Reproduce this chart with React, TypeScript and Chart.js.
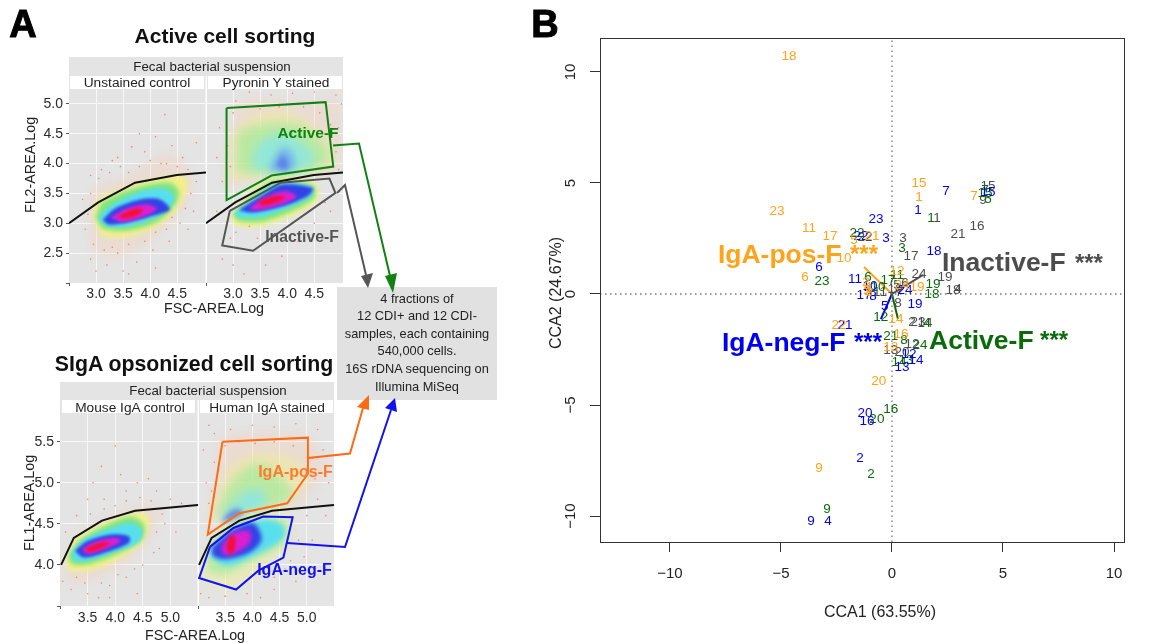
import React, { useEffect, useRef } from "react";
import { Chart, registerables } from "chart.js";
Chart.register(...registerables);

type P = [number, number];
const FONT = "'Liberation Sans', Arial, sans-serif";

// ---------- Panel B data (CCA1, CCA2) for samples 1..24 ----------
const sampleLabels = ["1","2","3","4","5","6","7","8","9","10","11","12","13","14","15","16","17","18","19","20","21","22","23","24"];
const inactiveF: P[] = [[2.03,3.42],[0.90,-1.26],[0.50,2.52],[2.97,0.23],[0.23,0.41],[0.59,0.50],[0.32,0.09],[0.27,-0.41],[4.10,4.23],[0.14,0.23],[-0.54,0.09],[0.90,-2.25],[-0.05,-2.52],[1.49,-1.31],[4.32,4.86],[3.83,3.06],[0.86,1.71],[2.75,0.18],[2.39,0.77],[0.45,-2.61],[2.97,2.70],[-1.22,2.57],[1.17,-1.26],[1.22,0.90]];
const activeF: P[] = [[1.76,3.42],[-0.95,-8.11],[0.45,2.07],[1.58,-1.31],[4.32,4.28],[-1.08,0.77],[4.19,4.68],[0.54,-2.07],[-2.93,-9.68],[-0.63,0.32],[0.23,0.86],[-0.50,-1.04],[0.63,-2.97],[0.32,-3.06],[4.19,4.55],[-0.05,-5.18],[-0.18,0.63],[1.80,0],[1.85,0.45],[-0.68,-5.63],[-0.05,-1.89],[-1.58,2.75],[-3.15,0.59],[1.26,-2.30]];
const igaNegF: P[] = [[1.17,3.78],[-1.44,-7.39],[-0.27,2.52],[-2.88,-10.23],[-0.32,-0.54],[-3.29,1.22],[2.43,4.64],[-0.86,-0.09],[-3.65,-10.23],[-0.99,0.36],[-1.67,0.68],[0.77,-2.70],[0.45,-3.29],[1.08,-2.97],[4.32,4.59],[-1.13,-5.72],[-1.26,-0.05],[1.89,1.94],[1.04,-0.45],[-1.22,-5.36],[-2.12,-1.40],[-1.40,2.61],[-0.72,3.38],[0.59,0.18]];
const igaPosF: P[] = [[1.22,4.37],[-1.17,0.54],[-1.13,0.14],[-1.08,0.32],[-1.71,2.43],[-3.92,0.77],[3.69,4.41],[-1.04,0.09],[-3.29,-7.84],[-2.16,1.62],[-3.74,2.97],[0.23,1.04],[-0.05,-2.39],[0.18,-1.13],[1.22,5.0],[0.41,-1.80],[-2.79,2.61],[-4.64,10.72],[1.13,0.32],[-0.59,-3.92],[-0.90,2.61],[-2.39,-1.40],[-5.18,3.74],[0.45,0.41]];
const arrowTips = { inactive: [1.40,0.86] as P, active: [0.27,-1.13] as P, neg: [-0.50,-1.13] as P, pos: [-1.26,1.22] as P };
const cBlue = "#0000f0", cGreen = "#0b6b0b", cOrange = "#ffa31a", cGray = "#4d4d4d";
const bigLabels: { t: string; at: P; c: string; size: number }[] = [
  { t: "IgA-pos-F", at: [-7.84, 1.40], c: cOrange, size: 26.5 },
  { t: "***", at: [-1.89, 1.44], c: cOrange, size: 24 },
  { t: "Inactive-F", at: [2.25, 1.04], c: cGray, size: 26.5 },
  { t: "***", at: [8.24, 1.04], c: cGray, size: 24 },
  { t: "IgA-neg-F", at: [-7.66, -2.57], c: cBlue, size: 26.5 },
  { t: "***", at: [-1.71, -2.52], c: cBlue, size: 24 },
  { t: "Active-F", at: [1.67, -2.48], c: cGreen, size: 26.5 },
  { t: "***", at: [6.67, -2.43], c: cGreen, size: 24 },
];
const ccaTicks = [-10, -5, 0, 5, 10];

// ---------- Panel A gates and thresholds ----------
const thresholdTop: P[] = [[2.5,3.0],[3.04,3.35],[3.72,3.68],[4.49,3.81],[5.03,3.85]];
const thresholdBottom: P[] = [[3.02,4.0],[3.25,4.33],[3.76,4.54],[4.36,4.66],[5.5,4.73]];
const gateActive: P[] = [[2.88,4.93],[4.71,5.03],[4.85,3.95],[3.71,3.80],[2.88,3.39],[2.88,4.93]];
const gateInactive: P[] = [[2.94,3.21],[3.88,3.68],[4.78,3.75],[4.89,3.51],[3.37,2.54],[2.80,2.63],[2.94,3.21]];
const gatePos: P[] = [[3.45,5.50],[5.02,5.55],[5.02,5.11],[4.64,4.75],[3.76,4.63],[3.18,4.37],[3.45,5.50]];
const gateNeg: P[] = [[3.22,4.22],[3.65,4.45],[4.2,4.59],[4.74,4.58],[4.57,4.09],[4.11,3.93],[3.70,3.70],[3.02,3.84],[3.22,4.22]];

// ---------- Density outlines, outer to inner ----------
const C = { halo:"rgba(255,190,150,0.22)", yel:"rgba(243,242,124,0.9)", grn:"#7fe483", cyn:"#58dfee", blu:"#3243e6", mag:"#dd1fd0", red:"#f20f35", pyel:"rgba(240,240,130,0.42)", pgrn:"rgba(150,235,150,0.6)", pcyn:"rgba(130,230,240,0.7)", pblu:"rgba(110,170,240,0.8)", dblu:"rgba(85,120,230,0.8)" };
const t1 = {
  halo: [[2.86,3.16],[2.98,3.61],[3.56,3.78],[4.30,4.17],[4.70,3.89],[4.73,3.44],[4.18,2.83],[3.44,2.43],[2.95,2.55]] as P[],
  yel: [[2.94,3.16],[3.07,3.41],[3.69,3.64],[4.30,3.78],[4.67,3.75],[4.60,3.39],[4.24,3.02],[3.69,2.80],[3.13,2.80]] as P[],
  grn: [[2.99,3.11],[3.13,3.36],[3.75,3.60],[4.36,3.68],[4.53,3.53],[4.45,3.30],[4.12,3.02],[3.63,2.88],[3.13,2.91]] as P[],
  cyn: [[3.04,3.08],[3.23,3.27],[3.81,3.53],[4.30,3.57],[4.45,3.39],[4.12,3.11],[3.60,2.95],[3.20,2.95]] as P[],
  blu: [[3.12,3.06],[3.35,3.25],[3.81,3.40],[4.18,3.40],[4.36,3.23],[3.99,3.11],[3.56,3.01],[3.23,2.98]] as P[],
  mag: [[3.26,3.10],[3.56,3.25],[3.93,3.32],[4.12,3.25],[3.93,3.13],[3.50,3.02]] as P[],
  red: [[3.41,3.12],[3.69,3.24],[3.87,3.23],[3.75,3.13],[3.50,3.08]] as P[],
};
const t2u = {
  halo: [[2.87,3.61],[2.93,4.51],[3.23,5.07],[4.21,5.01],[4.95,5.07],[4.95,3.95],[3.72,3.81]] as P[],
  yel: [[2.96,3.70],[3.02,4.51],[3.42,4.82],[4.09,4.84],[4.74,4.40],[4.83,3.95],[3.72,3.80]] as P[],
  grn: [[3.06,3.86],[3.11,4.51],[3.54,4.66],[4.21,4.66],[4.67,4.34],[4.74,4.00],[3.79,3.81]] as P[],
  cyn: [[3.36,3.92],[3.42,4.28],[3.85,4.51],[4.21,4.40],[4.52,4.06],[4.03,3.85]] as P[],
  pbl: [[3.66,3.88],[3.79,4.14],[3.97,4.28],[4.15,4.06],[4.09,3.89]] as P[],
  dbl: [[3.79,3.95],[3.91,4.14],[4.02,4.00],[3.97,3.89]] as P[],
};
const t2l = {
  yel: [[2.96,3.13],[3.36,3.55],[3.79,3.76],[4.52,3.66],[4.51,3.34],[3.60,2.97],[3.05,2.97]] as P[],
  grn: [[2.99,3.16],[3.42,3.53],[3.79,3.72],[4.49,3.63],[4.47,3.39],[3.60,3.04],[3.08,3.04]] as P[],
  cyn: [[3.02,3.17],[3.48,3.50],[3.79,3.68],[4.45,3.61],[4.43,3.44],[3.54,3.11],[3.11,3.11]] as P[],
  blu: [[3.11,3.22],[3.54,3.47],[3.91,3.65],[4.47,3.59],[4.40,3.47],[3.97,3.30],[3.36,3.18]] as P[],
  mag: [[3.29,3.25],[3.60,3.44],[3.97,3.54],[4.17,3.44],[3.85,3.30],[3.42,3.22]] as P[],
  red: [[3.45,3.36],[3.72,3.45],[3.97,3.44],[3.82,3.36],[3.54,3.30]] as P[],
};
const b1 = {
  halo: [[3.06,3.95],[3.24,4.31],[3.73,4.55],[4.40,4.71],[4.80,4.71],[4.65,4.35],[4.22,4.03],[3.61,3.83],[3.18,3.79]] as P[],
  yel: [[3.11,4.05],[3.27,4.31],[3.73,4.49],[4.34,4.63],[4.60,4.59],[4.52,4.31],[4.16,4.11],[3.61,3.95],[3.18,3.93]] as P[],
  grn: [[3.15,4.11],[3.34,4.29],[3.79,4.47],[4.28,4.59],[4.52,4.49],[4.49,4.31],[4.10,4.15],[3.55,4.01],[3.21,4.01]] as P[],
  cyn: [[3.21,4.15],[3.43,4.31],[3.85,4.43],[4.28,4.51],[4.49,4.41],[4.40,4.27],[4.04,4.17],[3.49,4.05],[3.27,4.05]] as P[],
  blu: [[3.27,4.17],[3.49,4.29],[3.91,4.37],[4.25,4.35],[4.25,4.27],[3.91,4.17],[3.43,4.09]] as P[],
  mag: [[3.40,4.20],[3.67,4.29],[4.01,4.33],[4.10,4.29],[3.85,4.20],[3.49,4.13]] as P[],
  red: [[3.46,4.20],[3.73,4.27],[3.91,4.27],[3.73,4.20],[3.52,4.16]] as P[],
};
const b2u = {
  halo: [[3.19,4.47],[3.34,5.12],[3.46,5.56],[5.00,5.56],[5.30,5.16],[4.87,4.75],[3.77,4.65]] as P[],
  yel: [[3.22,4.51],[3.34,4.80],[3.59,5.20],[4.14,5.36],[4.81,5.28],[5.00,5.04],[4.63,4.78],[3.77,4.63]] as P[],
  grn: [[3.34,4.57],[3.46,4.84],[3.77,5.12],[4.14,5.24],[4.57,5.04],[4.75,4.84],[4.44,4.73],[3.77,4.63]] as P[],
  cyn: [[3.40,4.53],[3.52,4.67],[3.83,4.88],[4.14,4.92],[4.26,4.76],[3.95,4.63]] as P[],
  dbl: [[3.43,4.51],[3.52,4.61],[3.71,4.69],[3.83,4.63],[3.65,4.55]] as P[],
};
const b2l = {
  yel: [[3.06,3.91],[3.16,4.19],[3.59,4.49],[4.20,4.61],[4.69,4.57],[4.63,4.27],[4.20,3.95],[3.65,3.71],[3.16,3.79]] as P[],
  grn: [[3.16,3.99],[3.22,4.23],[3.65,4.49],[4.26,4.57],[4.63,4.53],[4.60,4.27],[4.02,4.05],[3.52,3.89],[3.22,3.91]] as P[],
  cyn: [[3.22,4.11],[3.28,4.23],[3.71,4.45],[4.26,4.55],[4.57,4.47],[4.54,4.31],[4.02,4.11],[3.52,3.99]] as P[],
  blu: [[3.25,4.21],[3.65,4.43],[4.02,4.51],[4.17,4.31],[3.95,4.15],[3.52,4.07],[3.28,4.11]] as P[],
  mag: [[3.43,4.23],[3.65,4.39],[3.95,4.41],[3.95,4.27],[3.65,4.13],[3.46,4.13]] as P[],
  red: [[3.52,4.21],[3.59,4.35],[3.68,4.35],[3.68,4.21],[3.60,4.13]] as P[],
};
// ---------- sparse events seen away from the clouds ----------
const t1Dots: P[] = [[3.66,4.28],[4.27,4.82],[3.8,4.5],[3.4,4.1],[3.1,3.9],[3.3,4.05],[3.9,4.2],[4.1,4.45],[4.4,4.3],[4.6,4.1],[4.85,4.35],[4.8,3.2],[4.55,3.0],[4.35,2.7],[4.05,2.55],[3.75,2.35],[3.5,2.2],[3.2,2.3],[2.9,2.4],[2.8,2.9],[2.75,3.4],[2.9,3.8],[3.6,2.15],[4.1,2.25],[4.7,2.9],[3.0,2.2],[3.3,2.6],[4.2,4.0],[3.05,3.75],[3.25,3.85],[3.45,3.95],[3.6,3.85],[3.8,3.95],[4.0,4.05],[4.3,4.0],[4.5,3.95],[4.7,3.9],[4.85,3.7],[4.75,3.5],[4.65,3.25],[4.4,3.1],[4.3,2.9],[4.1,2.85],[3.9,2.7],[3.6,2.65],[3.4,2.5],[3.15,2.55],[2.95,2.65],[2.85,3.15],[2.9,3.5]];
const t2Dots: P[] = [[3.3,5.2],[3.7,5.15],[4.1,5.18],[4.5,5.2],[4.9,5.15],[2.75,4.6],[2.7,4.1],[2.8,3.7],[2.7,3.2],[2.8,2.4],[3.0,2.3],[3.2,2.15],[3.6,2.3],[3.9,2.45],[4.2,2.7],[4.5,3.0],[4.8,3.2],[4.95,4.6],[5.0,5.0],[3.05,5.05],[2.95,2.75],[3.45,2.75],[3.8,2.8],[4.1,3.0],[3.0,4.85],[3.2,4.95],[3.5,4.92],[3.85,4.95],[4.3,4.95],[4.6,4.85],[4.8,4.65],[2.9,4.3],[2.95,3.95],[4.9,4.2],[4.95,3.9],[4.85,3.6],[4.7,3.35],[3.3,2.95],[3.05,2.85]];
const b1Dots: P[] = [[4.0,5.45],[3.6,5.0],[4.1,5.1],[4.4,5.0],[3.5,4.8],[3.8,4.8],[4.2,4.9],[3.3,4.6],[3.1,4.4],[4.75,4.9],[5.0,4.8],[5.2,4.75],[4.9,4.5],[5.1,4.4],[4.8,4.2],[4.5,4.0],[4.2,3.85],[3.9,3.75],[3.7,3.6],[3.5,3.65],[3.2,3.7],[3.05,3.8],[4.4,3.65],[3.9,3.6],[4.6,5.05],[3.75,5.2],[3.55,4.62],[3.8,4.68],[4.0,4.72],[4.2,4.78],[4.45,4.82],[4.65,4.78],[4.85,4.62],[4.75,4.4],[4.7,4.15],[4.35,3.95],[4.05,3.88],[3.75,3.78],[3.45,3.78],[3.3,3.85]];
const b2Dots: P[] = [[3.2,5.7],[3.6,5.65],[4.0,5.7],[4.4,5.68],[4.8,5.72],[5.2,5.65],[3.1,5.4],[3.15,5.0],[3.2,4.75],[5.3,5.4],[5.4,5.0],[5.2,4.8],[5.1,4.3],[4.95,4.1],[4.8,3.8],[4.4,3.7],[4.15,3.6],[3.9,3.65],[3.5,3.62],[3.2,3.6],[3.05,3.65],[4.6,3.95],[5.35,4.6],[3.3,5.6],[3.5,5.45],[3.75,5.5],[4.05,5.48],[4.4,5.5],[4.75,5.45],[5.1,5.3],[5.15,5.05],[3.3,5.25],[3.25,4.9],[5.0,4.6],[4.85,4.3],[4.7,4.05],[4.4,3.85]];
const xTicksTop = [2.5, 3, 3.5, 4, 4.5, 5.03];
const yTicksTop = [2, 2.5, 3, 3.5, 4, 4.5, 5];
const xTicksBottom = [3, 3.5, 4, 4.5, 5, 5.5];
const yTicksBottom = [3.5, 4, 4.5, 5, 5.5];

const pts = (a: P[]) => a.map(([x, y]) => ({ x, y }));
const closed = (a: P[]) => [...a, a[0]];
const cloud = (a: P[], color: string, blur = 1.5) => ({ kind: "cloud", blur, data: pts(closed(a)), showLine: true, fill: "shape", backgroundColor: color, borderWidth: 0, pointRadius: 0, tension: 0.3 });
const gate = (a: P[], color: string, w = 2) => ({ kind: "line", data: pts(a), showLine: true, fill: false, borderColor: color, borderWidth: w, pointRadius: 0, tension: 0 });

const filterFor = (d: any) => (d && d.kind === "cloud" ? `blur(${d.blur}px)` : "none");
const cloudBlur = {
  id: "cloudBlur",
  beforeDatasetsDraw(chart: any) { chart.ctx.filter = filterFor(chart.data.datasets[0]); },
  afterDatasetDraw(chart: any, args: any) { chart.ctx.filter = filterFor(chart.data.datasets[args.index + 1]); },
  afterDatasetsDraw(chart: any) { chart.ctx.filter = "none"; },
};

function panel(canvas: HTMLCanvasElement, o: any) {
  const all = o.datasets;
  all.forEach((d: any, i: number) => (d.order = all.length - i));
  return new Chart(canvas, {
    type: "scatter",
    data: { datasets: all },
    plugins: [cloudBlur],
    options: {
      animation: false, responsive: false, events: [],
      layout: { padding: 0, autoPadding: false },
      plugins: { legend: { display: false }, tooltip: { enabled: false } },
      scales: {
        x: {
          type: "linear", min: o.xr[0], max: o.xr[1],
          afterBuildTicks: (s: any) => { s.ticks = o.xTicks.map((value: number) => ({ value })); },
          afterFit: (s: any) => { s.height = o.xh; s.paddingLeft = 0; s.paddingRight = 0; },
          ticks: { autoSkip: false, maxRotation: 0, padding: o.xpad, color: "#2b2b2b", font: { family: FONT, size: 14 },
            callback: (v: number) => (v === o.xr[0] || v === o.xr[1] ? "" : v.toFixed(1)) },
          grid: { color: (c: any) => (c.tick && (c.tick.value === o.xr[0] || c.tick.value === o.xr[1]) ? "rgba(0,0,0,0)" : "#f7f7f7"),
            tickColor: (c: any) => (c.tick && (c.tick.value === o.xr[0] || c.tick.value === o.xr[1]) ? "#555" : "rgba(0,0,0,0)"), tickLength: 3, lineWidth: 1 },
          border: { display: false },
        },
        y: {
          type: "linear", min: o.yr[0], max: o.yr[1],
          afterBuildTicks: (s: any) => { s.ticks = o.yTicks.map((value: number) => ({ value })); },
          afterFit: (s: any) => { s.width = o.yw; s.paddingTop = 0; s.paddingBottom = 0; },
          ticks: { display: o.yw > 0, autoSkip: false, padding: 3, color: "#2b2b2b", font: { family: FONT, size: 14 },
            callback: (v: number) => (v === o.yr[0] ? "" : v.toFixed(1)) },
          grid: { color: (c: any) => (c.tick && c.tick.value === o.yr[0] ? "rgba(0,0,0,0)" : "#f7f7f7"), tickColor: o.yw > 0 ? "#555" : "rgba(0,0,0,0)", tickLength: o.yw > 0 ? 3 : 0, lineWidth: 1 },
          border: { display: false },
        },
      },
    } as any,
  });
}

const layersT1 = () => [cloud(t1.halo, C.halo, 4), cloud(t1.yel, C.yel, 2.5), cloud(t1.grn, C.grn, 2), cloud(t1.cyn, C.cyn), cloud(t1.blu, C.blu), cloud(t1.mag, C.mag), cloud(t1.red, C.red)];
const layersT2 = () => [cloud(t2u.halo, C.halo, 5), cloud(t2u.yel, C.pyel, 5), cloud(t2u.grn, C.pgrn, 5), cloud(t2u.cyn, C.pcyn, 5), cloud(t2u.pbl, C.pblu, 3.5), cloud(t2u.dbl, C.dblu, 2.5),
  cloud(t2l.yel, C.yel, 2.5), cloud(t2l.grn, C.grn, 2), cloud(t2l.cyn, C.cyn), cloud(t2l.blu, C.blu), cloud(t2l.mag, C.mag), cloud(t2l.red, C.red)];
const layersB1 = () => [cloud(b1.halo, C.halo, 4), cloud(b1.yel, C.yel, 2.5), cloud(b1.grn, C.grn, 2), cloud(b1.cyn, C.cyn), cloud(b1.blu, C.blu), cloud(b1.mag, C.mag), cloud(b1.red, C.red)];
const layersB2 = () => [cloud(b2u.halo, C.halo, 5), cloud(b2u.yel, C.pyel, 5), cloud(b2u.grn, C.pgrn, 5), cloud(b2u.cyn, C.pcyn, 5), cloud(b2u.dbl, C.dblu, 2.5),
  cloud(b2l.yel, C.pyel, 4), cloud(b2l.grn, C.pgrn, 3.5), cloud(b2l.cyn, C.cyn, 2.5), cloud(b2l.blu, C.blu, 2), cloud(b2l.mag, C.mag, 2), cloud(b2l.red, C.red, 1.5)];
const dots = (a: P[]) => ({ kind: "dots", data: pts(a), showLine: false, pointRadius: 0.8, pointBackgroundColor: "rgba(232,110,85,0.8)", pointBorderWidth: 0 });

const numberLabels = {
  id: "numberLabels",
  afterDatasetsDraw(chart: any) {
    const ctx = chart.ctx;
    const area = chart.chartArea;
    ctx.save();
    chart.data.datasets.forEach((d: any, i: number) => {
      if (!d.textColor) return;
      const meta = chart.getDatasetMeta(i);
      ctx.fillStyle = d.textColor;
      ctx.font = `13.5px ${FONT}`;
      ctx.textAlign = "center";
      ctx.textBaseline = "middle";
      meta.data.forEach((el: any, j: number) => ctx.fillText(sampleLabels[j], el.x, el.y));
    });
    const sx = chart.scales.x, sy = chart.scales.y;
    ctx.textAlign = "left";
    ctx.textBaseline = "alphabetic";
    bigLabels.forEach((l) => {
      ctx.fillStyle = l.c;
      ctx.font = `bold ${l.size}px ${FONT}`;
      ctx.fillText(l.t, sx.getPixelForValue(l.at[0]), sy.getPixelForValue(l.at[1]));
    });
    ctx.strokeStyle = "#333";
    ctx.lineWidth = 1;
    ctx.strokeRect(area.left + 0.5, area.top + 0.5, area.right - area.left, area.bottom - area.top);
    ctx.restore();
  },
};

const bRange = { x: [-13.15, 10.45], y: [-11.17, 11.53] };

const under = (
  <svg width={1151} height={643} style={{ position: "absolute", left: 0, top: 0 }}>
    <rect x={69} y={57} width={274} height={226} fill="#e4e4e4" />
    <rect x={70} y={76} width={134} height={13} fill="#fff" />
    <rect x={208} y={76} width={134} height={13} fill="#fff" />
    <rect x={205.5} y={76} width={1.5} height={207} fill="#fff" />
    <rect x={60} y={382} width={274} height={224} fill="#e4e4e4" />
    <rect x={62} y={400} width={133} height={13} fill="#fff" />
    <rect x={200} y={400} width={133} height={13} fill="#fff" />
    <rect x={197.5} y={400} width={1.5} height={206} fill="#fff" />
    <rect x={337} y={287} width={160} height={113} fill="#e1e1e1" />
  </svg>
);

function Arrow({ p, c, head }: { p: string; c: string; head: string }) {
  return (
    <g>
      <polyline points={p} fill="none" stroke={c} strokeWidth={2} strokeLinejoin="miter" />
      <polygon points={head} fill={c} />
    </g>
  );
}

const txt = (s: string, x: number, y: number, size: number, extra: any = {}) => (
  <text x={x} y={y} fontSize={size} fontFamily={FONT} textAnchor="middle" dominantBaseline="central" fill="#222" {...extra}>{s}</text>
);

const boxLines = ["4 fractions of", "12 CDI+ and 12 CDI-", "samples, each containing", "540,000 cells.", "16S rDNA sequencing on", "Illumina MiSeq"];

const over = (
  <svg width={1151} height={643} style={{ position: "absolute", left: 0, top: 0 }}>
    <Arrow p="333,145.5 359,143.5 390,276" c="#118211" head="385,276 397,273 393,293" />
    <Arrow p="337,193 345,185 366,275" c="#555" head="361,276 373,273 368,288" />
    <Arrow p="308,458 350,453.5 363,408" c="#ff6a13" head="357,407 369,410 369,395" />
    <Arrow p="287,543 345,547 391,410" c="#1212ee" head="385,408 397,412 395,398" />
    {txt("Active-F", 308, 132, 15.5, { fontWeight: "bold", fill: "#0f820f" })}
    {txt("Inactive-F", 302, 236, 15.8, { fontWeight: "bold", fill: "#555" })}
    {txt("IgA-pos-F", 295.5, 471, 16, { fontWeight: "bold", fill: "#ff7a2a" })}
    {txt("IgA-neg-F", 294.5, 569, 16, { fontWeight: "bold", fill: "#1212ee" })}
    {txt("A", 23, 24, 38, { fontWeight: "bold", fill: "#000", stroke: "#000", strokeWidth: 1 })}
    {txt("B", 545, 24, 38, { fontWeight: "bold", fill: "#000", stroke: "#000", strokeWidth: 1 })}
    {txt("Active cell sorting", 225, 35, 21, { fontWeight: "bold", fill: "#111" })}
    {txt("SIgA opsonized cell sorting", 194, 364, 21.3, { fontWeight: "bold", fill: "#111" })}
    {txt("Fecal bacterial suspension", 212, 66, 13.3)}
    {txt("Unstained control", 137, 82.5, 13.7)}
    {txt("Pyronin Y stained", 276, 82.5, 13.7)}
    {txt("FSC-AREA.Log", 214, 308, 14.3)}
    <g transform="translate(30,165) rotate(-90)">{txt("FL2-AREA.Log", 0, 0, 14.3)}</g>
    {txt("Fecal bacterial suspension", 208, 390, 13.3)}
    {txt("Mouse IgA control", 130, 407, 13.7)}
    {txt("Human IgA stained", 267, 407, 13.7)}
    {txt("FSC-AREA.Log", 195, 635, 14.3)}
    <g transform="translate(29,503) rotate(-90)">{txt("FL1-AREA.Log", 0, 0, 14.3)}</g>
    {boxLines.map((s, i) => <React.Fragment key={i}>{txt(s, 417, 298 + i * 17.6, 12.8)}</React.Fragment>)}
    {txt("CCA1 (63.55%)", 880, 611, 16)}
    <g transform="translate(555,293) rotate(-90)">{txt("CCA2 (24.67%)", 0, 0, 16)}</g>
  </svg>
);

const cv = (left: number, top: number) => ({ position: "absolute" as const, left, top });

export default function App() {
  const a = useRef<HTMLCanvasElement>(null), b = useRef<HTMLCanvasElement>(null), c = useRef<HTMLCanvasElement>(null), d = useRef<HTMLCanvasElement>(null), e = useRef<HTMLCanvasElement>(null);
  useEffect(() => {
    const topBase = { xr: [2.5, 5.03], yr: [2.0, 5.25], xTicks: xTicksTop, yTicks: yTicksTop, xh: 36, xpad: 0 };
    const botBase = { xr: [3.0, 5.5], yr: [3.5, 5.85], xTicks: xTicksBottom, yTicks: yTicksBottom, xh: 37, xpad: 1 };
    const charts = [
      panel(a.current!, { ...topBase, yw: 69, datasets: [...layersT1(), dots(t1Dots), gate(thresholdTop, "#111")] }),
      panel(b.current!, { ...topBase, yw: 0, datasets: [...layersT2(), dots(t2Dots), gate(thresholdTop, "#111"), gate(gateActive, "#118211"), gate(gateInactive, "#555")] }),
      panel(c.current!, { ...botBase, yw: 60, datasets: [...layersB1(), dots(b1Dots), gate(thresholdBottom, "#111")] }),
      panel(d.current!, { ...botBase, yw: 0, datasets: [...layersB2(), dots(b2Dots), gate(thresholdBottom, "#111"), gate(gatePos, "#ff6a13"), gate(gateNeg, "#1212ee")] }),
    ];
    const zero = (x: P, y: P) => ({ data: pts([x, y]), showLine: true, borderColor: "#777", borderWidth: 1.3, borderDash: [1.5, 3.5], pointRadius: 0 });
    const spoke = (t: P, color: string) => ({ data: pts([[0, 0], t]), showLine: true, borderColor: color, borderWidth: 2, pointRadius: 0 });
    const series = (a2: P[], color: string) => ({ data: pts(a2), showLine: false, pointRadius: 0, textColor: color });
    const ds: any[] = [
      zero([bRange.x[0], 0], [bRange.x[1], 0]),
      zero([0, bRange.y[0]], [0, bRange.y[1]]),
      spoke(arrowTips.inactive, cGray), spoke(arrowTips.active, cGreen), spoke(arrowTips.neg, cBlue), spoke(arrowTips.pos, cOrange),
      series(inactiveF, cGray), series(activeF, cGreen), series(igaNegF, cBlue), series(igaPosF, cOrange),
    ];
    const tickFmt = (v: number) => (v < 0 ? "\u2212" + Math.abs(v) : String(v));
    charts.push(new Chart(e.current!, {
      type: "scatter",
      data: { datasets: ds },
      plugins: [numberLabels],
      options: {
        animation: false, responsive: false, events: [],
        layout: { padding: { top: 38, right: 27, left: 0, bottom: 0 }, autoPadding: false },
        plugins: { legend: { display: false }, tooltip: { enabled: false } },
        scales: {
          x: {
            type: "linear", min: bRange.x[0], max: bRange.x[1],
            afterBuildTicks: (s: any) => { s.ticks = ccaTicks.map((value) => ({ value })); },
            afterFit: (s: any) => { s.height = 79; s.paddingLeft = 0; s.paddingRight = 0; },
            ticks: { padding: 12.5, color: "#222", font: { family: FONT, size: 15 }, maxRotation: 0, callback: tickFmt },
            grid: { drawOnChartArea: false, tickLength: 10, tickColor: "#333" },
            border: { display: false },
          },
          y: {
            type: "linear", min: bRange.y[0], max: bRange.y[1],
            afterBuildTicks: (s: any) => { s.ticks = ccaTicks.map((value) => ({ value })); },
            afterFit: (s: any) => { s.width = 54; s.paddingTop = 0; s.paddingBottom = 0; },
            ticks: { minRotation: 90, maxRotation: 90, crossAlign: "center", padding: 6.6, color: "#222", font: { family: FONT, size: 15 }, callback: tickFmt },
            grid: { drawOnChartArea: false, tickLength: 10, tickColor: "#333" },
            border: { display: false },
          },
        },
      } as any,
    }));
    return () => charts.forEach((ch) => ch.destroy());
  }, []);
  return (
    <div style={{ position: "fixed", left: 0, top: 0, width: 1151, height: 643, background: "#fff", overflow: "hidden" }}>
      {under}
      <canvas ref={a} width={206} height={230} style={cv(0, 89)} />
      <canvas ref={b} width={137} height={230} style={cv(206, 89)} />
      <canvas ref={c} width={198} height={230} style={cv(0, 413)} />
      <canvas ref={d} width={136} height={230} style={cv(198, 413)} />
      <canvas ref={e} width={605} height={621} style={cv(546, 0)} />
      {over}
    </div>
  );
}
